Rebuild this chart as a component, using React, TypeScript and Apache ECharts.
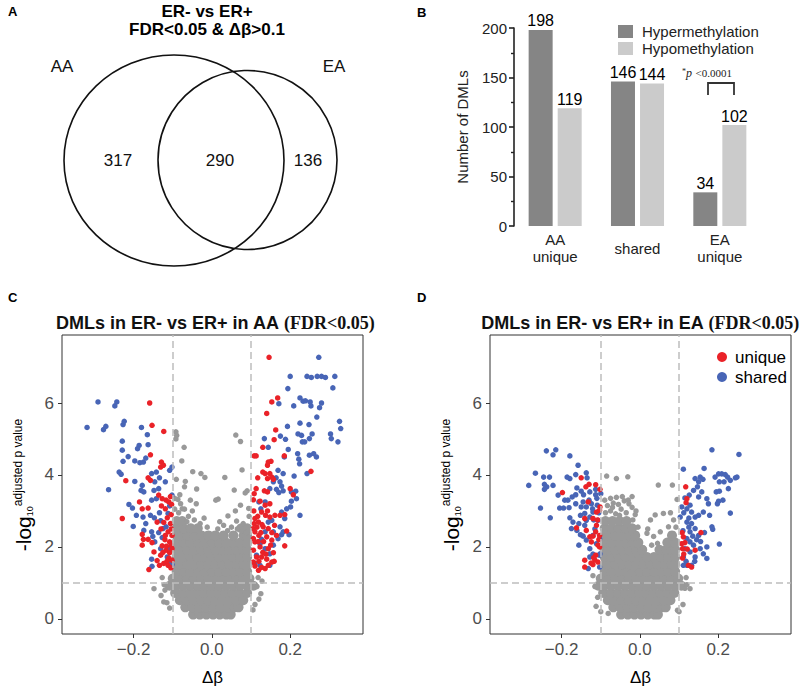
import React, { useEffect, useRef } from 'react';
import * as echarts from 'echarts';

// ---------- data ----------
const vennSets = ['AA', 'EA'];
const vennCounts = [317, 290, 136]; // AA only, both, EA only

const barCategories = ['AA\nunique', 'shared', 'EA\nunique'];
const hyperCounts = [198, 146, 34];
const hypoCounts = [119, 144, 102];
const barYTicks = [0, 50, 100, 150, 200];
const pValueText = '<0.0001';

const volcanoXTicks = [-0.2, 0, 0.2];
const volcanoYTicks = [0, 2, 4, 6];
const dbThresholds = [-0.1, 0.1];
const fdrThreshold = 1;

// Panel C (AA) significant loci
const cShared: number[][] = [
  [-0.319,5.32],[-0.291,6.03],[-0.277,5.26],[-0.271,5.35],[-0.248,5.92],[-0.243,6.03],[-0.227,5.40],[-0.224,5.49],[-0.180,5.32],[-0.165,5.12],
  [-0.229,4.94],[-0.229,4.69],[-0.186,4.82],[-0.190,4.73],[-0.163,4.84],[-0.214,4.51],[-0.227,4.38],[-0.197,4.39],[-0.184,4.34],[-0.175,4.36],
  [-0.169,4.47],[-0.237,4.08],[-0.232,4.02],[-0.197,3.82],[-0.264,3.59],[-0.178,3.71],[-0.181,3.57],[-0.174,3.53],[-0.154,4.04],[-0.142,4.08],
  [-0.134,3.92],[-0.146,3.81],[-0.148,3.57],[-0.136,3.62],[-0.119,3.81],[-0.108,4.13],[-0.102,4.22],[-0.212,3.18],[-0.203,3.08],[-0.193,2.88],
  [-0.201,2.57],[-0.176,2.83],[-0.169,2.65],[-0.174,2.46],[-0.154,3.30],[-0.142,3.34],[-0.157,2.88],[-0.147,2.81],[-0.134,2.95],[-0.131,2.73],
  [-0.125,2.51],[-0.117,2.56],[-0.136,2.40],[-0.127,2.26],[-0.154,2.42],[-0.151,2.29],[-0.112,2.93],[-0.108,3.14],[-0.102,3.44],[-0.106,1.95],
  [-0.102,1.51],[-0.154,1.66],[-0.153,1.46],[-0.104,1.58],[-0.114,1.72],[-0.131,1.95],[-0.146,2.14],
  [0.273,7.27],[0.200,6.74],[0.243,6.74],[0.254,6.71],[0.269,6.74],[0.280,6.74],[0.290,6.71],[0.314,6.74],[0.309,6.42],[0.194,6.40],
  [0.171,5.98],[0.209,5.92],[0.225,6.14],[0.233,6.05],[0.239,6.06],[0.251,6.03],[0.253,5.92],[0.280,6.00],[0.275,5.87],[0.268,5.61],
  [0.326,5.49],[0.193,5.35],[0.225,5.44],[0.248,5.40],[0.329,5.29],[0.303,5.14],[0.305,5.01],[0.322,4.92],[0.134,5.01],[0.175,5.08],
  [0.188,4.99],[0.220,5.14],[0.229,5.10],[0.256,5.14],[0.231,4.92],[0.237,4.92],[0.249,5.01],[0.144,4.77],[0.195,4.71],[0.219,4.59],
  [0.185,4.50],[0.222,4.44],[0.224,4.31],[0.249,4.55],[0.260,4.59],[0.267,4.50],[0.243,4.04],[0.210,3.97],[0.169,4.13],[0.182,4.04],
  [0.164,3.92],[0.174,3.81],[0.178,3.69],[0.165,3.60],[0.171,3.51],[0.182,3.56],[0.157,3.81],[0.148,3.62],[0.203,3.53],[0.214,3.55],
  [0.216,3.34],[0.203,3.27],[0.201,3.11],[0.191,3.06],[0.225,2.88],[0.178,2.97],[0.186,2.79],[0.174,2.56],[0.178,2.34],[0.169,2.23],
  [0.157,2.05],[0.153,2.74],[0.144,2.69],[0.136,2.42],[0.127,2.21],[0.123,2.09],[0.136,1.95],[0.148,1.81],[0.114,1.77],[0.110,1.54],
  [0.123,1.49],[0.148,1.49],[0.197,2.34],[0.157,2.42],[0.182,2.42],[0.125,3.06],[0.120,3.25],[0.136,3.25]
];
const cUnique: number[][] = [
  [-0.159,6.00],[-0.153,5.38],[-0.123,5.21],[-0.157,4.56],[-0.129,4.36],[-0.131,4.22],[-0.124,4.27],[-0.220,3.84],[-0.163,3.92],[-0.157,3.85],
  [-0.229,2.79],[-0.185,3.25],[-0.178,3.06],[-0.163,3.08],[-0.136,3.44],[-0.127,3.34],[-0.117,3.30],[-0.110,3.25],[-0.103,3.18],[-0.119,3.06],
  [-0.129,3.14],[-0.114,2.81],[-0.123,2.68],[-0.106,2.65],[-0.112,2.42],[-0.102,2.32],[-0.178,2.35],[-0.175,2.21],[-0.178,2.05],[-0.163,2.21],
  [-0.153,2.12],[-0.148,1.86],[-0.127,2.03],[-0.117,1.91],[-0.108,1.84],[-0.102,1.95],[-0.110,1.69],[-0.102,1.63],[-0.131,1.77],[-0.123,1.54],
  [-0.112,1.49],[-0.134,1.49],[-0.161,1.37],[-0.119,2.32],[-0.108,2.14],[-0.140,2.69],[-0.104,2.90],[-0.106,3.40],[-0.104,2.50],[-0.105,1.42],
  [-0.115,1.60],[-0.130,2.50],[-0.120,2.20],[-0.140,1.62],[-0.125,1.85],[-0.104,2.05],[-0.116,2.02],
  [0.146,7.27],[0.168,6.14],[0.153,6.03],[0.140,5.71],[0.163,5.25],[0.159,4.98],[0.130,4.77],[0.108,4.53],[0.113,4.53],[0.185,4.53],
  [0.144,4.36],[0.151,4.38],[0.142,4.27],[0.253,4.10],[0.130,4.08],[0.136,4.04],[0.148,4.04],[0.153,3.94],[0.142,3.90],[0.157,3.88],
  [0.117,3.92],[0.113,3.62],[0.108,3.48],[0.106,3.31],[0.134,3.56],[0.142,3.53],[0.200,3.62],[0.208,3.45],[0.123,3.27],[0.136,3.16],
  [0.148,3.20],[0.127,2.97],[0.137,2.88],[0.148,2.83],[0.161,2.88],[0.174,2.88],[0.186,2.90],[0.110,2.79],[0.108,2.65],[0.119,2.69],
  [0.131,2.56],[0.144,2.51],[0.153,2.40],[0.165,2.32],[0.110,2.42],[0.120,2.32],[0.140,2.28],[0.153,2.19],[0.110,2.14],[0.123,2.00],
  [0.144,1.95],[0.157,1.84],[0.106,1.91],[0.114,1.72],[0.127,1.72],[0.140,1.66],[0.153,1.58],[0.110,1.47],[0.127,1.43],[0.144,1.49],
  [0.159,1.60],[0.191,2.44],[0.186,2.03],[0.119,1.35],[0.136,1.40],[0.106,1.58],[0.106,2.23],[0.106,2.51],[0.118,2.15],[0.130,1.85],
  [0.115,2.55],[0.125,2.40],[0.132,2.15],[0.120,1.60],[0.138,1.80],[0.150,2.05],[0.117,2.85],[0.128,2.62],[0.107,3.00],[0.160,2.60],[0.142,3.00]
];
// Panel C non-significant loci: dense core rows [y, x values] and scattered points
const cGrayRows: [number, number[]][] = [
  [0.12, [-0.048,-0.031,-0.014,0.003,0.020,0.037,0.048]],
  [0.32, [-0.068,-0.050,-0.032,-0.014,0.004,0.022,0.040,0.058,0.068]],
  [0.52, [-0.082,-0.064,-0.046,-0.028,-0.010,0.008,0.026,0.044,0.062,0.080]],
  [0.72, [-0.094,-0.074,-0.056,-0.038,-0.020,-0.002,0.016,0.034,0.052,0.070,0.090]],
  [0.92, [-0.108,-0.090,-0.072,-0.054,-0.036,-0.018,0.000,0.018,0.036,0.054,0.072,0.090,0.106]],
  [1.12, [-0.100,-0.082,-0.064,-0.046,-0.028,-0.010,0.008,0.026,0.044,0.062,0.080,0.096]],
  [1.32, [-0.090,-0.072,-0.054,-0.036,-0.018,0.000,0.018,0.036,0.054,0.072,0.090]],
  [1.52, [-0.090,-0.081,-0.063,-0.045,-0.027,-0.009,0.009,0.027,0.045,0.063,0.081,0.090]],
  [1.72, [-0.090,-0.072,-0.054,-0.036,-0.018,0.000,0.018,0.036,0.054,0.072,0.090]],
  [1.92, [-0.090,-0.081,-0.063,-0.045,-0.027,-0.009,0.009,0.027,0.045,0.063,0.081,0.090]],
  [2.12, [-0.090,-0.072,-0.054,-0.036,-0.018,0.000,0.018,0.036,0.054,0.072,0.090]],
  [2.32, [-0.090,-0.081,-0.063,-0.045,-0.027,-0.009,0.009,0.030,0.055,0.081,0.090]],
  [2.52, [-0.090,-0.072,-0.054,-0.036,0.075,0.090]],
  [2.72, [-0.090,-0.076]]
];
const cGrayScatter: number[][] = [
  [-0.092,5.20],[-0.090,5.10],[-0.092,5.00],[-0.071,4.77],[0.061,5.11],[0.073,4.93],[-0.077,4.39],[-0.049,4.09],[-0.028,4.04],[-0.018,3.93],
  [0.033,3.93],[0.077,4.14],[-0.091,3.88],[-0.068,3.82],[-0.070,3.67],[-0.039,3.61],[0.057,3.58],[0.090,3.56],[0.085,3.50],[0.016,3.33],
  [-0.082,3.45],[-0.087,3.32],[-0.055,3.30],[-0.040,3.20],[0.073,3.16],[0.094,3.07],[0.041,2.86],[0.063,2.72],[0.030,2.60],[0.050,2.55],
  [-0.076,3.06],[0.010,3.30],[-0.120,0.80],[-0.130,0.65],[-0.115,0.45],[-0.108,0.30],[-0.122,0.95],[-0.127,1.15],[-0.148,0.84],[-0.123,0.47],
  [0.115,0.90],[0.125,0.70],[0.110,0.40],[0.120,0.55],[0.105,0.25],[0.118,1.15],[0.128,1.05],
  [-0.085,2.95],[-0.070,3.05],[-0.060,2.85],[-0.045,2.75],[-0.030,2.65],[-0.012,2.55],[0.015,2.50],[0.040,2.45],[0.065,2.50],[0.080,2.65],
  [0.095,2.85],[-0.050,3.00],[0.020,2.70],[0.060,3.00],[-0.080,3.20],[-0.095,3.35],[-0.064,2.70],[-0.020,2.80],[0.088,2.40],[-0.095,3.05]
];

// Panel D (EA) significant loci
const dShared: number[][] = [
  [-0.239,4.67],[-0.215,4.70],[-0.222,4.56],[-0.179,4.53],[-0.158,4.27],[-0.267,4.05],[-0.246,3.94],[-0.231,3.94],[-0.284,3.71],[-0.244,3.74],
  [-0.238,3.67],[-0.244,3.60],[-0.222,3.71],[-0.186,3.94],[-0.179,3.90],[-0.164,4.01],[-0.137,4.06],[-0.135,3.92],[-0.209,3.44],[-0.192,3.30],
  [-0.184,3.30],[-0.173,3.39],[-0.164,3.45],[-0.161,3.64],[-0.150,3.55],[-0.144,3.45],[-0.128,3.53],[-0.113,3.60],[-0.113,3.45],[-0.254,3.08],
  [-0.205,3.08],[-0.195,3.08],[-0.181,3.09],[-0.164,3.20],[-0.150,3.11],[-0.137,3.11],[-0.124,3.20],[-0.121,3.06],[-0.109,3.16],[-0.229,2.81],
  [-0.179,2.81],[-0.171,2.69],[-0.175,2.51],[-0.156,2.65],[-0.152,2.88],[-0.141,2.93],[-0.128,2.83],[-0.120,2.97],[-0.107,2.74],[-0.137,2.74],
  [-0.141,2.60],[-0.161,2.46],[-0.152,2.34],[-0.156,2.05],[-0.137,2.19],[-0.128,1.95],[-0.120,2.32],[-0.111,2.09],[-0.103,2.23],[-0.128,1.72],
  [-0.104,1.77],[-0.102,1.81],[-0.132,1.40],[-0.103,1.44],[-0.115,2.50],[-0.105,2.95],[-0.118,2.75],[-0.145,2.30],[-0.120,1.80],[-0.110,3.35],
  [-0.130,3.30],[-0.145,3.25],[-0.100,3.48],
  [0.184,4.70],[0.253,4.57],[0.111,4.16],[0.164,4.18],[0.141,3.90],[0.154,3.94],[0.150,3.81],[0.161,3.88],[0.192,3.94],[0.201,4.03],
  [0.209,4.03],[0.218,4.01],[0.224,3.94],[0.231,3.85],[0.244,3.92],[0.248,3.94],[0.203,3.81],[0.215,3.81],[0.226,3.62],[0.195,3.53],
  [0.203,3.55],[0.147,3.67],[0.158,3.53],[0.150,3.39],[0.137,3.57],[0.126,3.44],[0.171,3.34],[0.175,3.20],[0.201,3.27],[0.212,3.30],
  [0.198,3.20],[0.231,2.94],[0.115,3.36],[0.120,3.06],[0.128,3.16],[0.132,2.97],[0.141,2.83],[0.150,2.88],[0.162,2.97],[0.178,2.88],
  [0.184,2.56],[0.186,2.49],[0.107,3.11],[0.103,2.83],[0.120,2.69],[0.132,2.65],[0.128,2.42],[0.141,2.51],[0.150,2.32],[0.128,2.14],
  [0.120,2.23],[0.137,2.05],[0.115,1.95],[0.154,1.95],[0.171,2.00],[0.128,1.86],[0.141,1.72],[0.111,1.72],[0.120,1.49],[0.132,1.49],
  [0.171,1.68],[0.162,1.81],[0.203,2.08],[0.111,1.49],[0.110,2.45],[0.125,2.55],[0.145,2.20],[0.135,2.30],[0.112,2.95],[0.125,2.80],
  [0.118,1.60],[0.140,1.60],[0.155,2.15],[0.165,2.40]
];
const dUnique: number[][] = [
  [-0.150,3.92],[-0.198,3.51],[-0.138,3.67],[-0.130,3.74],[-0.113,3.73],[-0.102,3.60],[-0.102,3.11],[-0.132,3.25],[-0.111,2.97],[-0.103,3.02],
  [-0.141,2.79],[-0.120,2.79],[-0.162,2.53],[-0.137,2.46],[-0.128,2.28],[-0.113,2.42],[-0.103,2.32],[-0.111,2.60],[-0.107,2.05],[-0.124,2.14],
  [-0.103,2.00],[-0.113,1.77],[-0.115,1.63],[-0.141,1.63],[-0.141,1.44],[-0.120,1.51],[-0.107,1.58],[-0.120,2.30],[-0.118,1.70],[-0.125,1.55],
  [-0.105,2.20],[-0.108,2.75],
  [0.117,3.67],[0.120,3.34],[0.118,3.23],[0.156,2.40],[0.111,2.28],[0.115,2.12],[0.109,1.95],[0.121,1.94],[0.141,1.91],[0.109,1.69],
  [0.124,1.49],[0.132,1.44],[0.107,2.09],[0.108,2.40],[0.112,1.80]
];
const dGrayRows: [number, number[]][] = [
  [0.12, [-0.048,-0.031,-0.014,0.003,0.020,0.037,0.046]],
  [0.32, [-0.068,-0.050,-0.032,-0.014,0.004,0.022,0.040,0.056,0.066]],
  [0.52, [-0.082,-0.064,-0.046,-0.028,-0.010,0.008,0.026,0.044,0.062,0.078]],
  [0.72, [-0.094,-0.074,-0.056,-0.038,-0.020,-0.002,0.016,0.034,0.052,0.070,0.088]],
  [0.92, [-0.106,-0.090,-0.072,-0.054,-0.036,-0.018,0.000,0.018,0.036,0.054,0.072,0.090,0.106]],
  [1.12, [-0.100,-0.082,-0.064,-0.046,-0.028,-0.010,0.008,0.026,0.044,0.062,0.080,0.098]],
  [1.32, [-0.090,-0.072,-0.054,-0.036,-0.018,0.000,0.018,0.036,0.054,0.072,0.090]],
  [1.52, [-0.090,-0.081,-0.063,-0.045,-0.027,-0.009,0.009,0.027,0.045,0.063,0.081,0.090]],
  [1.72, [-0.090,-0.072,-0.054,-0.036,-0.018,0.000,0.018,0.036,0.054,0.072,0.090]],
  [1.92, [-0.090,-0.081,-0.063,-0.045,-0.027,-0.009,0.006,0.050,0.068,0.081,0.090]],
  [2.12, [-0.090,-0.072,-0.054,-0.036,-0.018,-0.004,0.070,0.090]],
  [2.32, [-0.090,-0.081,-0.063,-0.045,-0.027,-0.012,0.082]],
  [2.52, [-0.090,-0.072,-0.054,-0.036,-0.020]],
  [2.72, [-0.088,-0.070,-0.052,-0.034]]
];
const dGrayScatter: number[][] = [
  [-0.085,3.97],[-0.060,3.90],[-0.031,3.95],[0.047,3.72],[0.083,3.72],[0.095,3.32],[0.039,2.89],[0.060,2.93],[0.027,2.75],[0.073,2.56],
  [0.018,2.38],[0.035,2.29],[0.052,2.42],[0.009,1.97],[-0.020,3.40],[-0.028,3.20],[-0.010,3.00],[0.030,2.05],[0.045,2.10],[0.020,2.50],
  [-0.115,0.90],[-0.108,0.60],[-0.112,0.35],[-0.100,0.20],[0.115,0.85],[0.120,0.95],[0.110,0.40],[0.128,0.84],[0.100,0.20],[-0.120,1.20],
  [0.118,1.15],[-0.081,0.15],[0.096,0.24],
  [-0.088,2.95],[-0.075,3.00],[-0.062,2.92],[-0.048,3.05],[-0.035,2.95],[-0.083,3.15],[-0.068,3.22],[-0.055,3.18],[-0.040,3.28],[-0.075,3.35],
  [-0.060,3.38],[-0.030,3.30],[-0.020,3.10],[-0.012,2.90],[-0.045,3.40],[-0.090,3.30],[-0.018,2.75],[-0.005,2.55],[0.092,2.55],[0.086,2.75],
  [0.078,2.95],[-0.052,2.88],[-0.070,3.10]
];

// ---------- styles ----------
const SANS = '"Liberation Sans", Arial, Helvetica, sans-serif';
const SERIF = '"Liberation Serif", "Times New Roman", serif';
const RED = '#EA2228';
const BLUE = '#4865B6';
const GRAY = '#999999';
const HYPER = '#858585';
const HYPO = '#CBCBCB';

const rowsToPoints = (rows: [number, number[]][]) =>
  rows.flatMap(([y, xs]) => xs.map((x) => [x, y]));

const fmtX = (v: number) => (v === 0 ? '0.0' : v < 0 ? '\u2212' + Math.abs(v).toFixed(1) : v.toFixed(1));

function volcanoX(gridIndex: number) {
  return {
    type: 'value', gridIndex, min: -0.383, max: 0.386,
    axisLine: { show: false, onZero: false }, splitLine: { show: false },
    axisTick: { show: true, customValues: volcanoXTicks, length: 4, lineStyle: { color: '#333', width: 1 } },
    axisLabel: { customValues: volcanoXTicks, formatter: fmtX, fontSize: 17, color: '#4D4D4D', margin: 7, fontFamily: SANS },
    name: '\u0394\u03B2', nameLocation: 'middle', nameGap: 43,
    nameTextStyle: { fontSize: 17, color: '#000', fontFamily: SANS, verticalAlign: 'middle' }
  };
}
function volcanoY(gridIndex: number) {
  return {
    type: 'value', gridIndex, min: -0.42, max: 7.89,
    axisLine: { show: false, onZero: false }, splitLine: { show: false },
    axisTick: { show: true, customValues: volcanoYTicks, length: 4, lineStyle: { color: '#333', width: 1 } },
    axisLabel: { customValues: volcanoYTicks, formatter: (v: number) => String(v), fontSize: 17, color: '#4D4D4D', margin: 8, fontFamily: SANS }
  };
}

function volcanoSeries(axisIndex: number, rows: [number, number[]][], scatter: number[][], shared: number[][], unique: number[][]) {
  return [
    { type: 'scatter', xAxisIndex: axisIndex, yAxisIndex: axisIndex, data: rowsToPoints(rows), symbolSize: 10,
      itemStyle: { color: GRAY, opacity: 1 }, silent: true, z: 1 },
    { type: 'scatter', xAxisIndex: axisIndex, yAxisIndex: axisIndex, data: scatter, symbolSize: 5.5,
      itemStyle: { color: GRAY, opacity: 1 }, silent: true, z: 2,
      markLine: {
        silent: true, symbol: 'none', label: { show: false },
        lineStyle: { type: [7, 4], color: '#BDBDBD', width: 1.5 },
        data: [...dbThresholds.map((v) => ({ xAxis: v })), { yAxis: fdrThreshold }]
      } },
    { type: 'scatter', name: 'shared', xAxisIndex: axisIndex, yAxisIndex: axisIndex, data: shared, symbolSize: 5.5,
      itemStyle: { color: BLUE, opacity: 1 }, z: 3 },
    { type: 'scatter', name: 'unique', xAxisIndex: axisIndex, yAxisIndex: axisIndex, data: unique, symbolSize: 5.5,
      itemStyle: { color: RED, opacity: 1 }, z: 4 }
  ];
}

function yLabel(x: number, y: number) {
  return {
    type: 'text', x, y, rotation: Math.PI / 2, z: 10,
    style: {
      text: '{a|-log}{b|10}{c|adjusted p value}',
      align: 'center', verticalAlign: 'middle', textAlign: 'center', textVerticalAlign: 'middle',
      fill: '#000',
      rich: {
        a: { fontSize: 21, fontFamily: SANS, lineHeight: 22, verticalAlign: 'middle', fill: '#000' },
        b: { fontSize: 9, fontFamily: SANS, lineHeight: 10, verticalAlign: 'bottom', fill: '#000' },
        c: { fontSize: 12, fontFamily: SANS, lineHeight: 13, verticalAlign: 'top', fill: '#000' }
      }
    }
  };
}

function txt(x: number, y: number, text: string, extra: any = {}) {
  return {
    type: 'text', x, y, z: 10,
    style: {
      text, fill: '#000', fontFamily: SANS, fontSize: 16,
      align: 'center', verticalAlign: 'middle', textAlign: 'center', textVerticalAlign: 'middle',
      ...extra
    }
  };
}

function buildOption() {
  const vennTextPos = [[118, 160], [220, 160], [308, 160]];
  const vennSetPos = [[62, 66], [334, 66]];
  return {
    animation: false,
    textStyle: { fontFamily: SANS },
    grid: [
      { left: 514, top: 28, width: 247, height: 198 },
      { left: 62, top: 335, width: 301, height: 299, show: true, borderColor: '#333', borderWidth: 1, backgroundColor: 'transparent' },
      { left: 490, top: 335, width: 301, height: 299, show: true, borderColor: '#333', borderWidth: 1, backgroundColor: 'transparent' }
    ],
    xAxis: [
      { type: 'category', gridIndex: 0, data: barCategories,
        axisLine: { show: false }, axisTick: { show: false },
        axisLabel: { interval: 0, fontSize: 15, lineHeight: 17, color: '#222', verticalAlign: 'middle', margin: 22, fontFamily: SANS } },
      volcanoX(1), volcanoX(2)
    ],
    yAxis: [
      { type: 'value', gridIndex: 0, min: barYTicks[0], max: barYTicks[barYTicks.length - 1], interval: 50,
        splitLine: { show: false },
        axisLine: { show: true, lineStyle: { color: '#222', width: 1.6 } },
        axisTick: { show: true, length: 5, lineStyle: { color: '#222', width: 1.6 } },
        minorTick: { show: true, splitNumber: 2, length: 3, lineStyle: { color: '#222', width: 1.4 } },
        axisLabel: { fontSize: 15, color: '#222', margin: 7, fontFamily: SANS },
        name: 'Number of DMLs', nameLocation: 'middle', nameRotate: 90, nameGap: 44,
        nameTextStyle: { fontSize: 15, color: '#222', fontFamily: SANS } },
      volcanoY(1), volcanoY(2)
    ],
    legend: [
      { data: ['Hypermethylation', 'Hypomethylation'], orient: 'vertical', left: 613, top: 19,
        itemWidth: 15, itemHeight: 13, itemGap: 2, icon: 'rect', selectedMode: false,
        textStyle: { fontSize: 15, color: '#222', lineHeight: 15, padding: [0, 0, 0, 4], fontFamily: SANS } },
      { data: ['unique', 'shared'], orient: 'vertical', left: 712, top: 343,
        itemWidth: 10, itemHeight: 10, itemGap: 2, icon: 'circle', selectedMode: false,
        textStyle: { fontSize: 17, color: '#000', lineHeight: 18, padding: [0, 0, 0, 3], fontFamily: SANS } }
    ],
    series: [
      { type: 'bar', name: 'Hypermethylation', xAxisIndex: 0, yAxisIndex: 0, data: hyperCounts,
        barWidth: 24, barGap: '21%', itemStyle: { color: HYPER },
        label: { show: true, position: 'top', distance: 1, fontSize: 16, color: '#000', fontFamily: SANS } },
      { type: 'bar', name: 'Hypomethylation', xAxisIndex: 0, yAxisIndex: 0, data: hypoCounts,
        barWidth: 24, itemStyle: { color: HYPO },
        label: { show: true, position: 'top', distance: 1, fontSize: 16, color: '#000', fontFamily: SANS } },
      ...volcanoSeries(1, cGrayRows, cGrayScatter, cShared, cUnique),
      ...volcanoSeries(2, dGrayRows, dGrayScatter, dShared, dUnique)
    ],
    graphic: [
      txt(8, 11, 'A', { fontWeight: 'bold', fontSize: 13, align: 'left', textAlign: 'left' }),
      txt(417, 12, 'B', { fontWeight: 'bold', fontSize: 13, align: 'left', textAlign: 'left' }),
      txt(8, 297, 'C', { fontWeight: 'bold', fontSize: 13, align: 'left', textAlign: 'left' }),
      txt(417, 297, 'D', { fontWeight: 'bold', fontSize: 13, align: 'left', textAlign: 'left' }),
      txt(207, 20, 'ER- vs ER+\nFDR<0.05 & \u0394\u03B2>0.1', { fontWeight: 'bold', fontSize: 17, lineHeight: 18 }),
      { type: 'ellipse', shape: { cx: 174, cy: 160.5, rx: 110, ry: 105.5 }, style: { fill: 'none', stroke: '#111', lineWidth: 1.6 }, z: 10 },
      { type: 'circle', shape: { cx: 247.5, cy: 160, r: 89.5 }, style: { fill: 'none', stroke: '#111', lineWidth: 1.6 }, z: 10 },
      ...vennSets.map((s, i) => txt(vennSetPos[i][0], vennSetPos[i][1], s, { fontSize: 17, fill: '#111' })),
      ...vennCounts.map((c, i) => txt(vennTextPos[i][0], vennTextPos[i][1], String(c), { fontSize: 17, fill: '#111' })),
      {
        type: 'text', x: 707, y: 73, z: 10,
        style: {
          text: '{s|*}{p|p} {n|' + pValueText + '}',
          align: 'center', verticalAlign: 'middle', textAlign: 'center', textVerticalAlign: 'middle',
          rich: {
            s: { fontSize: 8, fontFamily: SERIF, lineHeight: 12, verticalAlign: 'top', fill: '#222' },
            p: { fontSize: 12, fontFamily: SERIF, fontStyle: 'italic', lineHeight: 12, fill: '#222' },
            n: { fontSize: 11, fontFamily: SERIF, lineHeight: 12, fill: '#222' }
          }
        }
      },
      { type: 'polyline', shape: { points: [[708, 95], [708, 83], [734, 83], [734, 95]] },
        style: { fill: 'none', stroke: '#333', lineWidth: 1.8 }, z: 10 },
      {
        type: 'text', x: 215, y: 323, z: 10,
        style: {
          text: '{a|DMLs in ER- vs ER+ in AA }{b|(FDR<0.05)}',
          align: 'center', verticalAlign: 'middle', textAlign: 'center', textVerticalAlign: 'middle',
          rich: {
            a: { fontSize: 18, fontWeight: 'bold', fontFamily: SANS, fill: '#111' },
            b: { fontSize: 18, fontWeight: 'bold', fontFamily: SERIF, fill: '#111' }
          }
        }
      },
      {
        type: 'text', x: 640, y: 323, z: 10,
        style: {
          text: '{a|DMLs in ER- vs ER+ in EA }{b|(FDR<0.05)}',
          align: 'center', verticalAlign: 'middle', textAlign: 'center', textVerticalAlign: 'middle',
          rich: {
            a: { fontSize: 18, fontWeight: 'bold', fontFamily: SANS, fill: '#111' },
            b: { fontSize: 18, fontWeight: 'bold', fontFamily: SERIF, fill: '#111' }
          }
        }
      },
      yLabel(23, 485),
      yLabel(451, 485)
    ]
  };
}

export default function App() {
  const ref = useRef<HTMLDivElement>(null);
  useEffect(() => {
    if (!ref.current) return;
    const chart = echarts.init(ref.current, undefined, { renderer: 'svg' });
    chart.setOption(buildOption() as any);
    return () => chart.dispose();
  }, []);
  return (
    <div
      ref={ref}
      style={{ position: 'fixed', left: 0, top: 0, width: 800, height: 687, background: '#fff' }}
    />
  );
}
